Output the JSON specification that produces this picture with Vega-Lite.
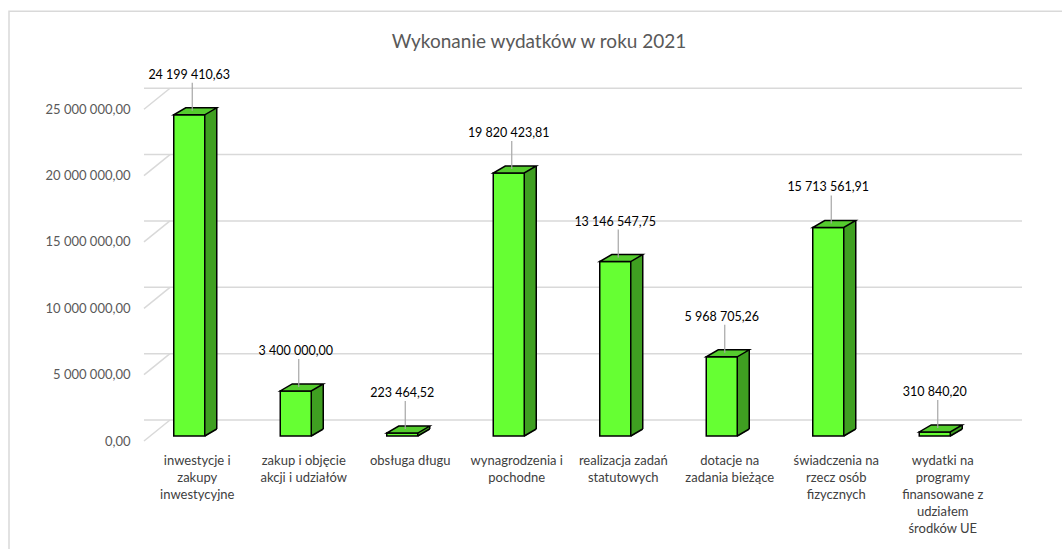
{
  "$schema": "https://vega.github.io/schema/vega-lite/v6.json",
  "width": 852,
  "height": 331.75,
  "autosize": "none",
  "padding": {"left": 144, "top": 109.25, "right": 66, "bottom": 108},
  "background": "white",
  "config": {
    "view": {"stroke": null},
    "font": "Lato",
    "locale": {"number": {"decimal": ",", "thousands": " ", "grouping": [3], "currency": ["", ""]}}
  },
  "title": {
    "text": "Wykonanie wydatków w roku 2021",
    "fontSize": 19,
    "fontWeight": "normal",
    "color": "#595959",
    "font": "Lato",
    "anchor": "middle",
    "frame": "group",
    "dx": -31,
    "offset": -41
  },
  "datasets": {
    "wydatki": [
      {"kategoria": "inwestycje i zakupy inwestycyjne", "wartosc": 24199410.63},
      {"kategoria": "zakup i objęcie akcji i udziałów", "wartosc": 3400000.00},
      {"kategoria": "obsługa długu", "wartosc": 223464.52},
      {"kategoria": "wynagrodzenia i pochodne", "wartosc": 19820423.81},
      {"kategoria": "realizacja zadań statutowych", "wartosc": 13146547.75},
      {"kategoria": "dotacje na zadania bieżące", "wartosc": 5968705.26},
      {"kategoria": "świadczenia na rzecz osób fizycznych", "wartosc": 15713561.91},
      {"kategoria": "wydatki na programy finansowane z udziałem środków UE", "wartosc": 310840.20}
    ],
    "siatka": [{"t": 0}, {"t": 5000000}, {"t": 10000000}, {"t": 15000000}, {"t": 20000000}, {"t": 25000000}],
    "ramka": [{"r": 1}]
  },
  "layer": [
    {
      "data": {"name": "ramka"},
      "mark": {"type": "rect", "fill": "transparent", "stroke": "#D9D9D9", "strokeWidth": 1.5, "xOffset": -135, "x2Offset": 100, "yOffset": -98, "y2Offset": 150},
      "encoding": {
        "x": {"datum": "inwestycje i zakupy inwestycyjne", "type": "nominal", "bandPosition": 0,
          "scale": {"domain": ["inwestycje i zakupy inwestycyjne", "zakup i objęcie akcji i udziałów", "obsługa długu", "wynagrodzenia i pochodne", "realizacja zadań statutowych", "dotacje na zadania bieżące", "świadczenia na rzecz osób fizycznych", "wydatki na programy finansowane z udziałem środków UE"], "paddingInner": 0, "paddingOuter": 0},
          "axis": {"title": null, "domain": false, "ticks": false, "grid": false, "labelAngle": 0, "labelPadding": 13, "labelFontSize": 13, "labelColor": "#404040", "labelLineHeight": 17, "labelFont": "Lato", "labelOverlap": false, "labelBound": false,
            "labelExpr": "({'inwestycje i zakupy inwestycyjne': ['inwestycje i', 'zakupy', 'inwestycyjne'], 'zakup i objęcie akcji i udziałów': ['zakup i objęcie', 'akcji i udziałów'], 'obsługa długu': ['obsługa długu'], 'wynagrodzenia i pochodne': ['wynagrodzenia i', 'pochodne'], 'realizacja zadań statutowych': ['realizacja zadań', 'statutowych'], 'dotacje na zadania bieżące': ['dotacje na', 'zadania bieżące'], 'świadczenia na rzecz osób fizycznych': ['świadczenia na', 'rzecz osób', 'fizycznych'], 'wydatki na programy finansowane z udziałem środków UE': ['wydatki na', 'programy', 'finansowane z', 'udziałem', 'środków UE']})[datum.label]"}},
        "x2": {"datum": "wydatki na programy finansowane z udziałem środków UE", "bandPosition": 1},
        "y": {"datum": 25000000, "type": "quantitative", "scale": {"domain": [0, 25000000], "nice": false},
          "axis": {"title": null, "domain": false, "ticks": false, "grid": false, "values": [0, 5000000, 10000000, 15000000, 20000000, 25000000], "format": ",.2f", "labelFontSize": 13, "labelColor": "#595959", "labelPadding": 14, "labelFont": "Lato"}},
        "y2": {"datum": 0}
      }
    },
    {
      "data": {"name": "siatka"},
      "mark": {"type": "rule", "stroke": "#D9D9D9", "strokeWidth": 1.5, "xOffset": 26, "x2Offset": 26, "yOffset": -21},
      "encoding": {
        "y": {"field": "t", "type": "quantitative"}
      }
    },
    {
      "data": {"name": "siatka"},
      "mark": {"type": "rule", "stroke": "#D9D9D9", "strokeWidth": 1.5, "x2Offset": 26, "y2Offset": -21},
      "encoding": {
        "x": {"datum": "inwestycje i zakupy inwestycyjne", "type": "nominal", "bandPosition": 0},
        "x2": {"datum": "inwestycje i zakupy inwestycyjne", "bandPosition": 0},
        "y": {"field": "t", "type": "quantitative"},
        "y2": {"field": "t"}
      }
    },
    {
      "data": {"name": "wydatki"},
      "mark": {"type": "bar", "width": 12, "xOffset": 13.5, "yOffset": -12, "y2Offset": -5, "fill": "#3F9F21", "strokeWidth": 0},
      "encoding": {
        "x": {"field": "kategoria", "type": "nominal", "sort": null},
        "y": {"field": "wartosc", "type": "quantitative"},
        "y2": {"datum": 0}
      }
    },
    {
      "data": {"name": "wydatki"},
      "mark": {"type": "point", "shape": "M 7.5 -4.2 L 21 -4.2 L 21 -12.6 Z", "size": 4, "filled": true, "fill": "white", "strokeWidth": 0, "opacity": 1},
      "encoding": {
        "x": {"field": "kategoria", "type": "nominal", "sort": null},
        "y": {"datum": 0, "type": "quantitative"}
      }
    },
    {
      "data": {"name": "wydatki"},
      "mark": {"type": "bar", "width": 31, "xOffset": -8, "yOffset": -5, "y2Offset": -5, "fill": "#66FF33", "stroke": "black", "strokeWidth": 1.5},
      "encoding": {
        "x": {"field": "kategoria", "type": "nominal", "sort": null},
        "y": {"field": "wartosc", "type": "quantitative"},
        "y2": {"datum": 0}
      }
    },
    {
      "data": {"name": "wydatki"},
      "mark": {"type": "point", "shape": "M -23.5 -5 L 7.5 -5 L 19.5 -12 L -11.5 -12 Z", "size": 4, "filled": true, "fill": "#55CC2E", "stroke": "black", "strokeWidth": 1.5, "opacity": 1},
      "encoding": {
        "x": {"field": "kategoria", "type": "nominal", "sort": null},
        "y": {"field": "wartosc", "type": "quantitative"}
      }
    },
    {
      "data": {"name": "wydatki"},
      "mark": {"type": "point", "shape": "M 7.5 -5 L 19.5 -12", "size": 4, "filled": false, "stroke": "black", "strokeWidth": 1.5, "opacity": 1},
      "encoding": {
        "x": {"field": "kategoria", "type": "nominal", "sort": null},
        "y": {"datum": 0, "type": "quantitative"}
      }
    },
    {
      "data": {"name": "wydatki"},
      "mark": {"type": "rule", "xOffset": 19.5, "yOffset": -12, "y2Offset": -12, "stroke": "black", "strokeWidth": 1.5},
      "encoding": {
        "x": {"field": "kategoria", "type": "nominal", "sort": null},
        "y": {"field": "wartosc", "type": "quantitative"},
        "y2": {"datum": 0}
      }
    },
    {
      "data": {"name": "wydatki"},
      "mark": {"type": "rule", "xOffset": -5, "yOffset": -37, "y2Offset": -9, "stroke": "#A6A6A6", "strokeWidth": 1.2},
      "encoding": {
        "x": {"field": "kategoria", "type": "nominal", "sort": null},
        "y": {"field": "wartosc", "type": "quantitative"},
        "y2": {"field": "wartosc"}
      }
    },
    {
      "data": {"name": "wydatki"},
      "mark": {"type": "text", "dx": -8, "dy": -45, "fontSize": 12.5, "color": "black", "font": "Lato", "baseline": "middle", "align": "center"},
      "encoding": {
        "x": {"field": "kategoria", "type": "nominal", "sort": null},
        "y": {"field": "wartosc", "type": "quantitative"},
        "text": {"field": "wartosc", "type": "quantitative", "format": ",.2f"}
      }
    }
  ]
}
